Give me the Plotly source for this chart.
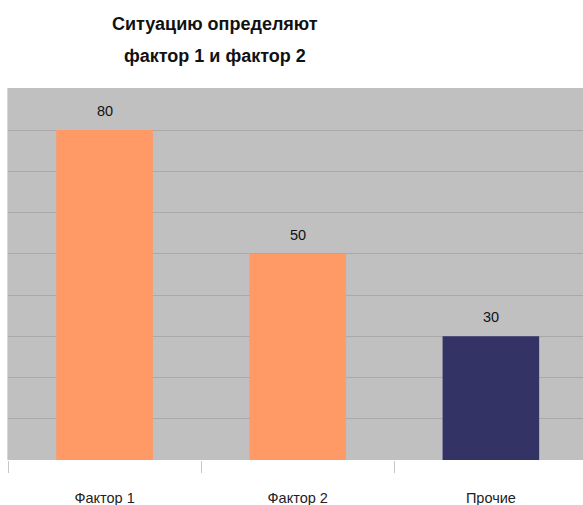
import plotly.graph_objects as go

categories = ["Фактор 1", "Фактор 2", "Прочие"]
values = [80, 50, 30]
bar_colors = ["#ff9966", "#ff9966", "#333366"]
title_lines = ["Ситуацию определяют", "фактор 1 и фактор 2"]

fig = go.Figure(
    go.Bar(
        x=categories,
        y=values,
        marker=dict(color=bar_colors, line=dict(width=0)),
        hoverinfo="skip",
    )
)

# value labels above each bar
for c, v in zip(categories, values):
    fig.add_annotation(
        x=c, y=v, text=str(v), showarrow=False, yanchor="bottom", yshift=9,
        font=dict(family="Liberation Sans, Arial", size=14.5, color="#111111"),
    )

# two-line title with wide line spacing
for i, line in enumerate(title_lines):
    fig.add_annotation(
        xref="paper", yref="paper", x=(215 - 7.5) / 575.5, y=1,
        yshift=88 - (24 + 32 * i), yanchor="middle", xanchor="center",
        text="<b>" + line + "</b>", showarrow=False,
        font=dict(family="Liberation Sans, Arial", size=18, color="#111111"),
    )

fig.update_layout(
    width=583,
    height=505,
    margin=dict(l=7.5, r=0, t=88, b=45),
    paper_bgcolor="white",
    plot_bgcolor="#c0c0c0",
    bargap=0.5,
    showlegend=False,
    xaxis=dict(
        type="category",
        range=[-0.5, 2.477],
        tickson="boundaries",
        ticks="outside",
        ticklen=12,
        tickcolor="#c8c8c8",
        tickwidth=1,
        ticklabelstandoff=27,
        showgrid=False,
        showline=False,
        tickfont=dict(family="Liberation Sans, Arial", size=14.5, color="#222222"),
    ),
    yaxis=dict(
        range=[0, 90.2],
        dtick=10,
        showgrid=True,
        gridcolor="#a9a9a9",
        gridwidth=1,
        showticklabels=False,
        zeroline=False,
        showline=True,
        linecolor="#d4d4e4",
        linewidth=1,
    ),
)

fig.write_html("out.html")
